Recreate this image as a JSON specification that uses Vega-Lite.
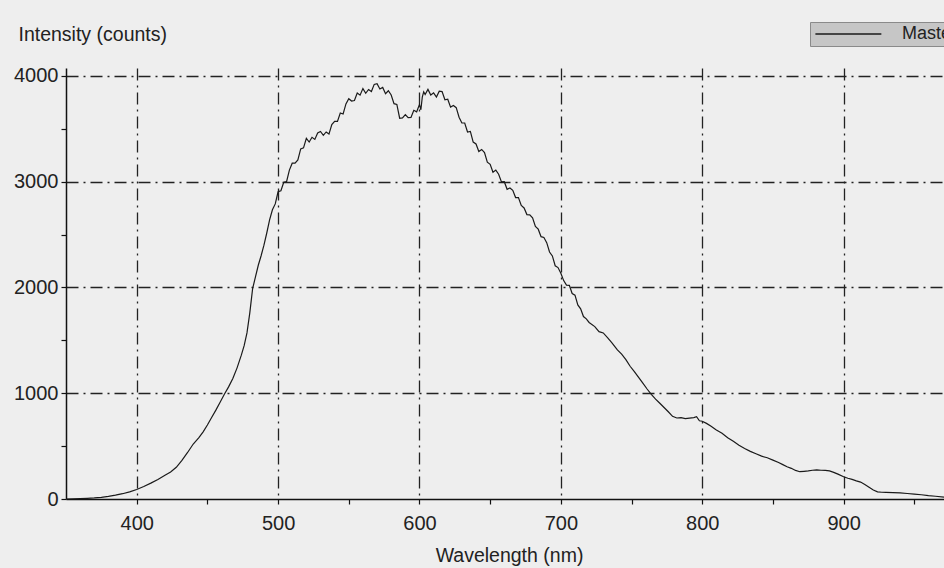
{
  "$schema": "https://vega.github.io/schema/vega-lite/v6.json",
  "width": 878,
  "height": 431,
  "autosize": {"type": "none"},
  "padding": {"left": 66, "top": 68, "right": 0, "bottom": 69},
  "background": "#eeeeee",
  "view": {"stroke": null},
  "config": {
    "font": "Liberation Sans",
    "axis": {
      "labelFont": "Liberation Sans",
      "titleFont": "Liberation Sans",
      "labelFontSize": 20,
      "titleFontSize": 19.5,
      "titleFontWeight": "normal",
      "labelColor": "#222222",
      "titleColor": "#222222",
      "domainColor": "#111111",
      "domainWidth": 1.5,
      "tickColor": "#111111",
      "tickWidth": 1.2,
      "tickSize": 5,
      "gridColor": "#222222",
      "gridWidth": 1.3,
      "gridDash": [12, 5, 2, 5]
    }
  },
  "data": {
    "values": [
      {"w": 350, "c": 0}, {"w": 355, "c": 1}, {"w": 360, "c": 3}, {"w": 365, "c": 6}, {"w": 370, "c": 10},
      {"w": 375, "c": 16}, {"w": 380, "c": 25}, {"w": 385, "c": 36}, {"w": 390, "c": 50}, {"w": 395, "c": 68},
      {"w": 400, "c": 90}, {"w": 405, "c": 118}, {"w": 410, "c": 150}, {"w": 415, "c": 185}, {"w": 420, "c": 225},
      {"w": 424, "c": 255}, {"w": 428, "c": 300}, {"w": 432, "c": 365}, {"w": 436, "c": 440}, {"w": 440, "c": 520},
      {"w": 444, "c": 580}, {"w": 447, "c": 635}, {"w": 450, "c": 700}, {"w": 453, "c": 770}, {"w": 456, "c": 840},
      {"w": 459, "c": 915}, {"w": 462, "c": 990}, {"w": 465, "c": 1060}, {"w": 468, "c": 1140}, {"w": 471, "c": 1240},
      {"w": 474, "c": 1360}, {"w": 476, "c": 1450}, {"w": 478, "c": 1570}, {"w": 480, "c": 1760}, {"w": 482, "c": 1990},
      {"w": 484, "c": 2100}, {"w": 486, "c": 2210}, {"w": 488, "c": 2300}, {"w": 490, "c": 2400}, {"w": 492, "c": 2515},
      {"w": 494, "c": 2640}, {"w": 496, "c": 2735}, {"w": 498, "c": 2790},
      {"w": 500, "c": 2905}, {"w": 502, "c": 2915}, {"w": 504, "c": 2995}, {"w": 506, "c": 3000}, {"w": 508, "c": 3110},
      {"w": 510, "c": 3175}, {"w": 512, "c": 3175}, {"w": 514, "c": 3205}, {"w": 516, "c": 3310}, {"w": 518, "c": 3320},
      {"w": 520, "c": 3410}, {"w": 522, "c": 3375}, {"w": 524, "c": 3420}, {"w": 526, "c": 3400}, {"w": 528, "c": 3460},
      {"w": 530, "c": 3475}, {"w": 532, "c": 3438}, {"w": 534, "c": 3470}, {"w": 536, "c": 3450}, {"w": 538, "c": 3540},
      {"w": 540, "c": 3570}, {"w": 542, "c": 3570}, {"w": 544, "c": 3650}, {"w": 546, "c": 3640}, {"w": 548, "c": 3735},
      {"w": 550, "c": 3785}, {"w": 552, "c": 3763}, {"w": 554, "c": 3768}, {"w": 556, "c": 3838}, {"w": 558, "c": 3818},
      {"w": 560, "c": 3880}, {"w": 562, "c": 3836}, {"w": 564, "c": 3872}, {"w": 566, "c": 3853}, {"w": 568, "c": 3920},
      {"w": 570, "c": 3927}, {"w": 572, "c": 3876}, {"w": 574, "c": 3891}, {"w": 576, "c": 3832}, {"w": 578, "c": 3860},
      {"w": 580, "c": 3820}, {"w": 582, "c": 3738}, {"w": 584, "c": 3730}, {"w": 586, "c": 3600}, {"w": 588, "c": 3604},
      {"w": 590, "c": 3635}, {"w": 592, "c": 3605}, {"w": 594, "c": 3607}, {"w": 596, "c": 3675}, {"w": 598, "c": 3660},
      {"w": 600, "c": 3730}, {"w": 601, "c": 3680}, {"w": 602, "c": 3800}, {"w": 603, "c": 3850}, {"w": 604, "c": 3825},
      {"w": 606, "c": 3873}, {"w": 608, "c": 3820}, {"w": 610, "c": 3840}, {"w": 612, "c": 3800}, {"w": 614, "c": 3856},
      {"w": 616, "c": 3852}, {"w": 618, "c": 3775}, {"w": 620, "c": 3780}, {"w": 622, "c": 3705}, {"w": 624, "c": 3720},
      {"w": 626, "c": 3700}, {"w": 628, "c": 3610}, {"w": 630, "c": 3555}, {"w": 632, "c": 3555}, {"w": 634, "c": 3470},
      {"w": 636, "c": 3475}, {"w": 638, "c": 3375}, {"w": 640, "c": 3357}, {"w": 642, "c": 3285}, {"w": 644, "c": 3305},
      {"w": 646, "c": 3275}, {"w": 648, "c": 3185}, {"w": 650, "c": 3165}, {"w": 652, "c": 3090}, {"w": 654, "c": 3110},
      {"w": 656, "c": 3071}, {"w": 658, "c": 2998}, {"w": 660, "c": 3000}, {"w": 662, "c": 2928}, {"w": 664, "c": 2941},
      {"w": 666, "c": 2919}, {"w": 668, "c": 2850}, {"w": 670, "c": 2850}, {"w": 672, "c": 2775}, {"w": 674, "c": 2752},
      {"w": 676, "c": 2689}, {"w": 678, "c": 2686}, {"w": 680, "c": 2658}, {"w": 682, "c": 2577}, {"w": 684, "c": 2551},
      {"w": 686, "c": 2480}, {"w": 688, "c": 2472}, {"w": 690, "c": 2424}, {"w": 692, "c": 2335}, {"w": 694, "c": 2298},
      {"w": 696, "c": 2205}, {"w": 698, "c": 2188}, {"w": 700, "c": 2135}, {"w": 702, "c": 2065}, {"w": 704, "c": 2022},
      {"w": 706, "c": 2020}, {"w": 708, "c": 1943}, {"w": 710, "c": 1927}, {"w": 712, "c": 1835}, {"w": 714, "c": 1798},
      {"w": 716, "c": 1725}, {"w": 718, "c": 1703}, {"w": 720, "c": 1669},
      {"w": 724, "c": 1630}, {"w": 727, "c": 1582}, {"w": 730, "c": 1570}, {"w": 733, "c": 1525}, {"w": 736, "c": 1478},
      {"w": 740, "c": 1409}, {"w": 743, "c": 1370}, {"w": 746, "c": 1318}, {"w": 749, "c": 1255}, {"w": 752, "c": 1205},
      {"w": 755, "c": 1150}, {"w": 758, "c": 1095}, {"w": 761, "c": 1040}, {"w": 764, "c": 990}, {"w": 767, "c": 945},
      {"w": 770, "c": 905}, {"w": 773, "c": 865}, {"w": 776, "c": 825}, {"w": 779, "c": 782}, {"w": 782, "c": 766},
      {"w": 785, "c": 770}, {"w": 788, "c": 760}, {"w": 791, "c": 765}, {"w": 794, "c": 770}, {"w": 796, "c": 778},
      {"w": 798, "c": 740}, {"w": 800, "c": 735}, {"w": 803, "c": 715}, {"w": 806, "c": 690}, {"w": 810, "c": 652},
      {"w": 814, "c": 622}, {"w": 818, "c": 580}, {"w": 822, "c": 545}, {"w": 826, "c": 508}, {"w": 830, "c": 478},
      {"w": 834, "c": 450}, {"w": 838, "c": 428}, {"w": 842, "c": 405}, {"w": 846, "c": 390}, {"w": 850, "c": 368},
      {"w": 854, "c": 345}, {"w": 857, "c": 325}, {"w": 860, "c": 305}, {"w": 863, "c": 290}, {"w": 866, "c": 270},
      {"w": 869, "c": 258}, {"w": 872, "c": 262}, {"w": 875, "c": 266}, {"w": 878, "c": 272}, {"w": 881, "c": 276},
      {"w": 884, "c": 272}, {"w": 887, "c": 270}, {"w": 890, "c": 266}, {"w": 893, "c": 252}, {"w": 896, "c": 235},
      {"w": 900, "c": 210}, {"w": 903, "c": 196}, {"w": 906, "c": 186}, {"w": 909, "c": 172}, {"w": 912, "c": 160},
      {"w": 915, "c": 138}, {"w": 918, "c": 112}, {"w": 921, "c": 85}, {"w": 924, "c": 68}, {"w": 927, "c": 64},
      {"w": 930, "c": 62}, {"w": 935, "c": 60}, {"w": 940, "c": 57}, {"w": 945, "c": 52}, {"w": 950, "c": 46},
      {"w": 955, "c": 40}, {"w": 960, "c": 32}, {"w": 965, "c": 26}, {"w": 971, "c": 18}
    ]
  },
  "mark": {"type": "line", "strokeWidth": 1.2, "clip": true},
  "encoding": {
    "x": {
      "field": "w",
      "type": "quantitative",
      "scale": {"domain": [350, 971], "nice": false, "zero": false},
      "axis": {
        "title": "Wavelength (nm)",
        "values": [400, 450, 500, 550, 600, 650, 700, 750, 800, 850, 900, 950],
        "labelExpr": "datum.value % 100 === 0 ? datum.label : ''",
        "format": "d",
        "labelPadding": 9,
        "gridOpacity": {"condition": {"test": "datum.value % 100 === 0", "value": 1}, "value": 0},
        "grid": true,
        "titleX": 443,
        "titleY": 62,
        "titleBaseline": "alphabetic",
        "titleAlign": "center"
      }
    },
    "y": {
      "field": "c",
      "type": "quantitative",
      "scale": {"domain": [0, 4075], "nice": false},
      "axis": {
        "title": "Intensity (counts)",
        "values": [0, 500, 1000, 1500, 2000, 2500, 3000, 3500, 4000],
        "labelExpr": "datum.value % 1000 === 0 ? datum.label : ''",
        "format": "d",
        "labelPadding": 3,
        "grid": true,
        "gridOpacity": {"condition": {"test": "datum.value % 1000 === 0 && datum.value > 0", "value": 1}, "value": 0},
        "titleAngle": 0,
        "titleAlign": "left",
        "titleBaseline": "alphabetic",
        "titleX": -48,
        "titleY": -28
      }
    },
    "color": {
      "datum": "Master",
      "type": "nominal",
      "scale": {"range": ["#1a1a1a"]},
      "legend": {
        "title": null,
        "orient": "none",
        "legendX": 744,
        "legendY": -46,
        "fillColor": "#c6c6c6",
        "strokeColor": "#8a8a8a",
        "padding": 3,
        "symbolType": "M-1,0H9",
        "symbolSize": 174,
        "symbolStrokeWidth": 1.5,
        "labelFontSize": 18,
        "labelFont": "Liberation Sans",
        "labelColor": "#222222",
        "labelOffset": 71
      }
    }
  }
}
